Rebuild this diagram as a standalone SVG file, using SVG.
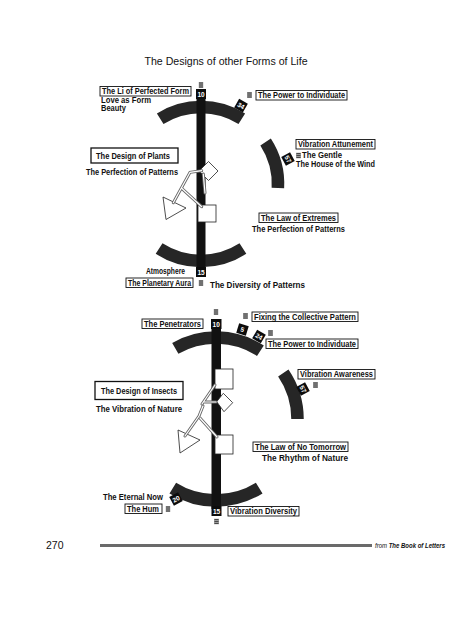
<svg xmlns="http://www.w3.org/2000/svg" xmlns:xlink="http://www.w3.org/1999/xlink" width="452" height="640" viewBox="0 0 452 640">
<defs>
<style>
.bg{fill:#fff}
.lab{font-family:"Liberation Sans Narrow","Liberation Sans",Arial,sans-serif;font-weight:bold;font-size:8.2px;fill:#111}
.box{fill:#fff;stroke:#111;stroke-width:0.9}
.bigbox{fill:#fff;stroke:#111;stroke-width:1.3}
.arc{fill:none;stroke:#262626;stroke-width:12.5}
.bar{fill:#111}
.blk{fill:#0c0c0c}
.bt{font-family:"Liberation Sans Narrow","Liberation Sans",Arial,sans-serif;font-weight:bold;font-size:6.5px;fill:#fff;text-anchor:middle}
.shape{fill:#fff;stroke:#222;stroke-width:0.8}
.dl{fill:none;stroke:#666;stroke-width:3;stroke-linecap:round}
.dli{fill:none;stroke:#fff;stroke-width:1.2;stroke-linecap:round}
.title{font-family:"Liberation Sans",Arial,sans-serif;font-size:10.6px;fill:#111;text-anchor:middle}
</style>
<symbol id="hx" viewBox="0 0 5 6">
<rect x="0" y="0" width="5" height="6" fill="#9a9a9a"/>
<path d="M0.5 1H4.5M0.5 3H4.5M0.5 5H4.5" stroke="#333" stroke-width="0.8"/>
</symbol>
</defs>
<rect class="bg" x="0" y="0" width="452" height="640"/>
<text class="title" x="226" y="65">The Designs of other Forms of Life</text>

<!-- ===== TOP DIAGRAM ===== -->
<g id="wheel-plants">
<path class="arc" d="M160.2,118.7 A77,77 0 0 1 241.8,118.7"/>
<path class="arc" d="M265.6,142 A77,77 0 0 1 277.9,188"/>
<path class="arc" d="M242.9,248.6 A77,77 0 0 1 159.1,248.6"/>
<rect class="bar" x="196.5" y="95" width="9" height="175"/>
</g>
<g id="gate-10-top">
<use href="#hx" x="198.5" y="82" width="5" height="6"/>
<rect class="blk" x="196" y="89" width="10" height="10"/>
<text class="bt" x="201" y="96.5">10</text>
</g>
<g id="gate-34-top" transform="translate(241,105.6) rotate(30)">
<rect class="blk" x="-5" y="-5" width="10" height="10"/>
<text class="bt" x="0" y="2.4">34</text>
</g>
<g id="gate-57-top" transform="translate(288,159) rotate(62)">
<rect class="blk" x="-5" y="-5" width="10" height="10"/>
<text class="bt" x="0" y="2.4">57</text>
</g>
<g id="gate-15-top">
<rect class="blk" x="196" y="267" width="10" height="10"/>
<text class="bt" x="201" y="274.5">15</text>
<use href="#hx" x="198.5" y="280" width="5" height="6"/>
</g>

<g id="li-perfected-form">
<rect class="box" x="100" y="86.5" width="91" height="9.5"/>
<text class="lab" x="102" y="94.3" textLength="87" lengthAdjust="spacingAndGlyphs">The Li of Perfected Form</text>
<text class="lab" x="101" y="102.5" textLength="50" lengthAdjust="spacingAndGlyphs">Love as Form</text>
<text class="lab" x="101" y="110.5" textLength="25" lengthAdjust="spacingAndGlyphs">Beauty</text>
</g>
<g id="power-individuate-top">
<use href="#hx" x="247" y="92" width="5" height="6"/>
<rect class="box" x="256" y="90.5" width="91" height="9.5"/>
<text class="lab" x="258" y="98.3" textLength="87" lengthAdjust="spacingAndGlyphs">The Power to Individuate</text>
</g>
<g id="vibration-attunement">
<rect class="box" x="296" y="139.5" width="79" height="9.5"/>
<text class="lab" x="298" y="147.3" textLength="75" lengthAdjust="spacingAndGlyphs">Vibration Attunement</text>
<use href="#hx" x="296" y="152.5" width="5" height="6"/>
<text class="lab" x="302" y="158" textLength="40" lengthAdjust="spacingAndGlyphs">The Gentle</text>
<text class="lab" x="296" y="166.5" textLength="79" lengthAdjust="spacingAndGlyphs">The House of the Wind</text>
</g>
<g id="design-of-plants">
<rect class="bigbox" x="91" y="148" width="87" height="15"/>
<text class="lab" x="96" y="158.6" textLength="74" lengthAdjust="spacingAndGlyphs">The Design of Plants</text>
<text class="lab" x="86" y="175" textLength="92" lengthAdjust="spacingAndGlyphs">The Perfection of Patterns</text>
</g>
<g id="law-of-extremes">
<rect class="box" x="259" y="213" width="79" height="9.5"/>
<text class="lab" x="261" y="220.8" textLength="75" lengthAdjust="spacingAndGlyphs">The Law of Extremes</text>
<text class="lab" x="252" y="231.5" textLength="93" lengthAdjust="spacingAndGlyphs">The Perfection of Patterns</text>
</g>
<g id="planetary-aura">
<text class="lab" x="146" y="274" textLength="39" lengthAdjust="spacingAndGlyphs">Atmosphere</text>
<rect class="box" x="126" y="278" width="67" height="9.5"/>
<text class="lab" x="128" y="285.8" textLength="63" lengthAdjust="spacingAndGlyphs">The Planetary Aura</text>
<text class="lab" x="210" y="287.5" textLength="95" lengthAdjust="spacingAndGlyphs">The Diversity of Patterns</text>
</g>

<g id="plant-diamond"><polygon class="shape" points="208.5,161.5 218,171 208.5,180.5 199,171"/></g>
<g id="plant-triangle"><polygon class="shape" points="163,197 186,208 166,219.5"/></g>
<g id="plant-square"><rect class="shape" x="198" y="205" width="18" height="17"/></g>

<!-- ===== BOTTOM DIAGRAM ===== -->
<g id="wheel-insects">
<path class="arc" d="M175.3,348.4 A81.5,81.5 0 0 1 260.4,350.7"/>
<path class="arc" d="M283.3,373 A81.5,81.5 0 0 1 297.5,419"/>
<path class="arc" d="M259.2,488.1 A81.5,81.5 0 0 1 172.8,488.1"/>
<rect class="bar" x="211.5" y="325" width="9.5" height="184"/>
</g>
<g id="gate-10-bottom">
<use href="#hx" x="213.5" y="309" width="5" height="6"/>
<rect class="blk" x="211" y="319" width="10.5" height="10"/>
<text class="bt" x="216.2" y="326.5">10</text>
</g>
<g id="gate-5" transform="translate(242.5,329.5) rotate(17)">
<rect class="blk" x="-5" y="-5" width="10" height="10"/>
<text class="bt" x="0" y="2.4">5</text>
</g>
<g id="gate-24" transform="translate(259,336.5) rotate(30)">
<rect class="blk" x="-5" y="-5" width="10" height="10"/>
<text class="bt" x="0" y="2.4">24</text>
</g>
<g id="gate-57-bottom" transform="translate(303,389) rotate(62)">
<rect class="blk" x="-5" y="-5" width="10" height="10"/>
<text class="bt" x="0" y="2.4">57</text>
</g>
<g id="gate-20" transform="translate(176,499) rotate(-28)">
<rect class="blk" x="-5" y="-5" width="10" height="10"/>
<text class="bt" x="0" y="2.4">20</text>
</g>
<g id="gate-15-bottom">
<rect class="blk" x="211.5" y="506" width="10" height="10"/>
<text class="bt" x="216.5" y="513.5">15</text>
<use href="#hx" x="214" y="518.5" width="5" height="6"/>
</g>

<g id="penetrators">
<rect class="box" x="142" y="319" width="61" height="9.5"/>
<text class="lab" x="144" y="326.8" textLength="57" lengthAdjust="spacingAndGlyphs">The Penetrators</text>
</g>
<g id="fixing-collective">
<use href="#hx" x="243" y="313" width="5" height="6"/>
<rect class="box" x="252" y="312" width="106" height="9.5"/>
<text class="lab" x="254" y="319.8" textLength="102" lengthAdjust="spacingAndGlyphs">Fixing the Collective Pattern</text>
</g>
<g id="power-individuate-bottom">
<use href="#hx" x="268" y="330" width="5" height="6"/>
<rect class="box" x="266" y="339" width="92" height="9.5"/>
<text class="lab" x="268" y="346.8" textLength="88" lengthAdjust="spacingAndGlyphs">The Power to Individuate</text>
</g>
<g id="vibration-awareness">
<rect class="box" x="298" y="369.5" width="77" height="9.5"/>
<text class="lab" x="300" y="377.3" textLength="73" lengthAdjust="spacingAndGlyphs">Vibration Awareness</text>
<use href="#hx" x="313" y="382" width="5" height="6"/>
</g>
<g id="design-of-insects">
<rect class="bigbox" x="95" y="381.5" width="88" height="18"/>
<text class="lab" x="101" y="394" textLength="76" lengthAdjust="spacingAndGlyphs">The Design of Insects</text>
<text class="lab" x="96" y="412" textLength="86" lengthAdjust="spacingAndGlyphs">The Vibration of Nature</text>
</g>
<g id="law-no-tomorrow">
<rect class="box" x="253" y="442" width="95" height="9.5"/>
<text class="lab" x="255" y="449.8" textLength="91" lengthAdjust="spacingAndGlyphs">The Law of No Tomorrow</text>
<text class="lab" x="262" y="461" textLength="86" lengthAdjust="spacingAndGlyphs">The Rhythm of Nature</text>
</g>
<g id="the-hum">
<text class="lab" x="103" y="500" textLength="60" lengthAdjust="spacingAndGlyphs">The Eternal Now</text>
<rect class="box" x="125" y="504" width="37" height="9.5"/>
<text class="lab" x="127" y="511.8" textLength="32" lengthAdjust="spacingAndGlyphs">The Hum</text>
<use href="#hx" x="165.5" y="506" width="5" height="6"/>
</g>
<g id="vibration-diversity">
<rect class="box" x="228" y="506.5" width="71" height="9.5"/>
<text class="lab" x="230" y="514.3" textLength="67" lengthAdjust="spacingAndGlyphs">Vibration Diversity</text>
</g>

<g id="insect-square-top"><rect class="shape" x="215" y="369" width="18" height="20"/></g>
<g id="insect-diamond"><polygon class="shape" points="223.3,393.3 232.7,402.7 224,411.7 216.7,401.7"/></g>
<g id="insect-triangle"><polygon class="shape" points="178,430 200,440 180,453"/></g>
<g id="insect-square-bottom"><rect class="shape" x="215" y="435" width="18" height="19"/></g>

<g id="connectors">
<path class="dl" d="M201.7,170.7 L190,172.3 L173.3,202.7 M181.7,188.3 L201.7,206.7 M203.3,174 L205,193"/>
<path class="dli" d="M201.7,170.7 L190,172.3 L173.3,202.7 M181.7,188.3 L201.7,206.7 M203.3,174 L205,193"/>
<path class="dl" d="M215,385 L202,404 M204,402 L216,402 M203,406 L199,416 L185,436 M200,418 L217,437"/>
<path class="dli" d="M215,385 L202,404 M204,402 L216,402 M203,406 L199,416 L185,436 M200,418 L217,437"/>
</g>

<g id="footer">
<text x="46" y="549" font-family="Liberation Sans,Arial,sans-serif" font-size="10.5" fill="#111">270</text>
<rect x="100" y="544" width="272" height="3" fill="#6a6a6a"/>
<text x="375" y="548" font-family="Liberation Sans,Arial,sans-serif" font-size="6.6" font-style="italic" fill="#111" textLength="70" lengthAdjust="spacingAndGlyphs">from <tspan font-weight="bold">The Book of Letters</tspan></text>
</g>
</svg>
